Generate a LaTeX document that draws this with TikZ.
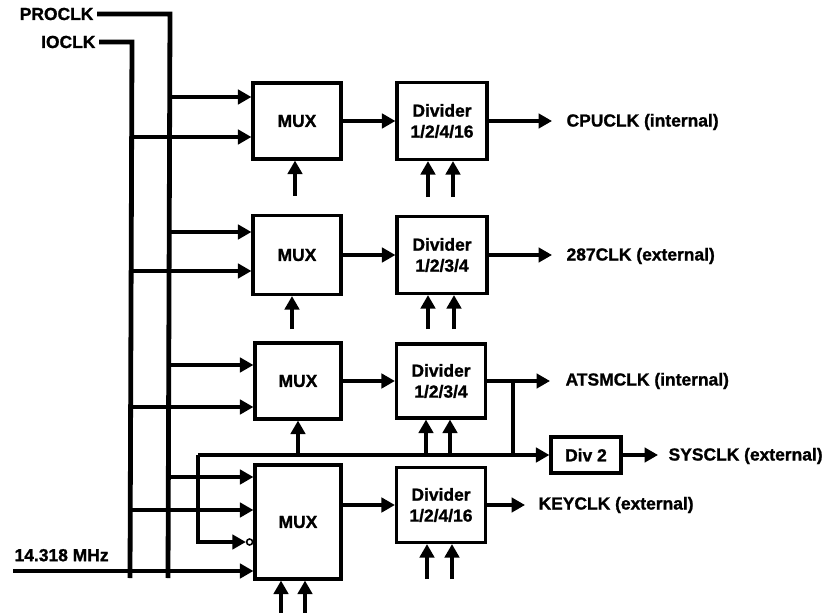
\documentclass[tikz,border=0pt]{standalone}
\usepackage{fontspec}
\setmainfont{Liberation Sans}[BoldFeatures={FakeBold=1.2}]
\usetikzlibrary{arrows.meta,calc}
\begin{document}
\begin{tikzpicture}[x=1bp,y=-1bp,line width=3.2bp,
  txt/.style={font=\bfseries\fontsize{17.5}{21}\selectfont},
  box/.style={draw,line width=3.2bp,inner sep=0pt,align=center,txt},
  lab/.style={inner sep=0pt,anchor=west,txt},
  arr/.style={-{Triangle[length=13.5bp,width=14.5bp]},line width=3.2bp},
  bus/.style={line width=4.8bp}]
\useasboundingbox (0,0) rectangle (827,613);
% boxes
\node[box,minimum width=88bp,minimum height=76bp] (mux1) at (297,121) {MUX};
\node[box,minimum width=90bp,minimum height=77bp] (div1) at (442,121) {Divider\\1/2/4/16};
\node[box,minimum width=88bp,minimum height=79bp] (mux2) at (297,255) {MUX};
\node[box,minimum width=90bp,minimum height=77bp] (div2) at (442,255) {Divider\\1/2/3/4};
\node[box,minimum width=86bp,minimum height=76bp] (mux3) at (298,381) {MUX};
\node[box,minimum width=89bp,minimum height=74bp] (div3) at (441,381) {Divider\\1/2/3/4};
\node[box,minimum width=86bp,minimum height=114bp] (mux4) at (298,522) {MUX};
\node[box,minimum width=89bp,minimum height=75bp] (div4) at (441,505) {Divider\\1/2/4/16};
\node[box,minimum width=70bp,minimum height=36bp] (d2) at (586,455) {Div 2};
% labels
\node[lab,anchor=east] (pro) at (95,14) {PROCLK};
\node[lab,anchor=east] (io) at (97,42) {IOCLK};
\node[lab,anchor=south west] (osc) at (13,563) {14.318 MHz};
\node[lab] (cpu) at (565,122) {CPUCLK (internal)};
\node[lab] (c287) at (565,256) {287CLK (external)};
\node[lab] (atsm) at (564,381) {ATSMCLK (internal)};
\node[lab] (sys) at (667,456) {SYSCLK (external)};
\node[lab] (key) at (537,505) {KEYCLK (external)};
% coordinates
\coordinate (pbot) at (168,578);
\coordinate (ibot) at (130,578);
\coordinate (oscin) at (13,571);
\coordinate (sl) at (198,455);
\coordinate (tap) at (513,381);
\coordinate (d3a) at ($(div3.south)+(-15,0)$);
\coordinate (d3b) at ($(div3.south)+(9,0)$);
% buses
\draw[bus] ([xshift=2bp]pro.east) -- ([xshift=2bp]pro.east -| pbot) -- (pbot);
\draw[bus] ([xshift=2bp]io.east) -- ([xshift=2bp]io.east -| ibot) -- (ibot);
% mux inputs
\draw[arr] (pbot |- 0,97) -- (mux1.west |- 0,97);
\draw[arr] (ibot |- 0,137) -- (mux1.west |- 0,137);
\draw[arr] (pbot |- 0,232) -- (mux2.west |- 0,232);
\draw[arr] (ibot |- 0,271) -- (mux2.west |- 0,271);
\draw[arr] (pbot |- 0,365) -- (mux3.west |- 0,365);
\draw[arr] (ibot |- 0,407) -- (mux3.west |- 0,407);
\draw[arr] (pbot |- 0,477) -- (mux4.west |- 0,477);
\draw[arr] (ibot |- 0,510) -- (mux4.west |- 0,510);
\draw[arr] (oscin) -- (mux4.west |- oscin);
\node[circle,draw,line width=1.6bp,minimum size=6bp,inner sep=0pt,anchor=east] (bub) at (mux4.west |- 0,542) {};
\draw[arr] (sl) -- (sl |- bub.west) -- (bub.west);
% mux -> divider
\draw[arr] (mux1.east) -- (div1.west);
\draw[arr] (mux2.east) -- (div2.west);
\draw[arr] (mux3.east) -- (div3.west);
\draw[arr] (mux4.east |- div4.west) -- (div4.west);
% outputs
\draw[arr] (div1.east) -- ([xshift=-13bp]cpu.west |- div1.east);
\draw[arr] (div2.east) -- ([xshift=-13bp]c287.west |- div2.east);
\draw[arr] (div3.east) -- ([xshift=-14bp]atsm.west |- div3.east);
\draw[arr] (div4.east) -- ([xshift=-12bp]key.west |- div4.east);
\draw (tap) -- (tap |- d2.west);
\draw[arr] (sl) -- (d2.west);
\draw[arr] (d2.east) -- ([xshift=-9bp]sys.west |- d2.east);
% select inputs
\draw[arr] ($(mux1.south)+(-2,35)$) -- ($(mux1.south)+(-2,0)$);
\draw[arr] ($(div1.south)+(-14,36)$) -- ($(div1.south)+(-14,0)$);
\draw[arr] ($(div1.south)+(11,36)$) -- ($(div1.south)+(11,0)$);
\draw[arr] ($(mux2.south)+(-5,33)$) -- ($(mux2.south)+(-5,0)$);
\draw[arr] ($(div2.south)+(-14,34)$) -- ($(div2.south)+(-14,0)$);
\draw[arr] ($(div2.south)+(12,34)$) -- ($(div2.south)+(12,0)$);
\draw[arr] (mux3.south |- sl) -- (mux3.south);
\draw[arr] (d3a |- sl) -- (d3a);
\draw[arr] (d3b |- sl) -- (d3b);
\draw[arr] ($(mux4.south)+(-17,34)$) -- ($(mux4.south)+(-17,0)$);
\draw[arr] ($(mux4.south)+(7,34)$) -- ($(mux4.south)+(7,0)$);
\draw[arr] ($(div4.south)+(-14,35)$) -- ($(div4.south)+(-14,0)$);
\draw[arr] ($(div4.south)+(11,35)$) -- ($(div4.south)+(11,0)$);
\end{tikzpicture}
\end{document}
